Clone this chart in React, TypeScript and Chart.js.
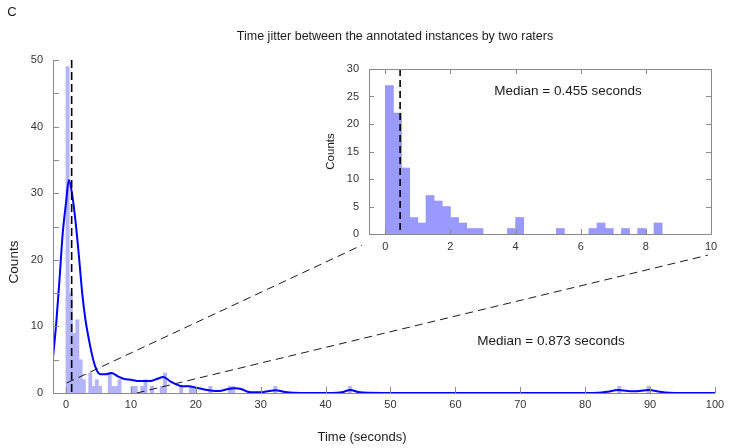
import React, { useEffect, useRef } from 'react';
import { Chart, registerables } from 'chart.js';

Chart.register(...registerables);

const FONT = '"Liberation Sans", Arial, Helvetica, sans-serif';

// ---- text ----
const panelLabel = 'C';
const titleText = 'Time jitter between the annotated instances by two raters';
const xTitle = 'Time (seconds)';
const yTitle = 'Counts';
const mainMedianLabel = 'Median = 0.873 seconds';
const insetMedianLabel = 'Median = 0.455 seconds';

// ---- main histogram (bin width 0.5 s) ----
const mainBinWidth = 0.5;
const mainBinStart = [0, 0.5, 1, 1.5, 2, 2.5, 3.5, 4, 4.5, 5, 6.5, 7, 7.5, 8, 10, 10.5, 11.5, 12, 13, 14.5, 15, 17.5, 19, 19.5, 22, 25, 25.5, 32, 43.5, 85, 89.5];
const mainCounts = [49, 15, 9, 11, 5, 2, 3, 1, 2, 1, 3, 1, 1, 2, 1, 1, 1, 2, 1, 1, 3, 1, 1, 1, 1, 1, 1, 1, 1, 1, 1];
const mainMedian = 0.873;

// ---- density curve ----
const kdeX = [-2, -1.5, -1, -0.5, 0, 0.45, 1, 1.5, 2, 2.5, 3, 3.5, 4, 4.5, 5, 5.5, 6, 7, 8, 9, 10, 11, 12, 13, 14, 15, 16, 17, 18, 19, 20, 21, 22, 23, 24, 25, 26, 27, 28, 29, 30, 31, 32.3, 33.5, 35, 38, 41, 42.5, 43.8, 45, 46.5, 50, 60, 70, 80, 82, 83.5, 85, 87.5, 89.8, 91.5, 93, 95, 100];
const kdeY = [5.3, 10.5, 17, 24, 28.5, 32, 29.5, 25.5, 20.5, 15, 11, 8.2, 5.8, 4, 3, 2.8, 2.8, 3, 2.5, 2.1, 2, 1.8, 1.8, 1.8, 2.1, 2.4, 1.8, 1.3, 1, 1, 0.8, 0.6, 0.4, 0.3, 0.35, 0.6, 0.7, 0.6, 0.2, 0.1, 0.1, 0.25, 0.4, 0.2, 0.03, 0, 0, 0.1, 0.45, 0.15, 0.02, 0, 0, 0, 0, 0.03, 0.2, 0.45, 0.25, 0.45, 0.2, 0.05, 0, 0];

const mainXTicks = [0, 10, 20, 30, 40, 50, 60, 70, 80, 90, 100];
const mainYTicks = [0, 5, 10, 15, 20, 25, 30, 35, 40, 45, 50];

// zoom connector lines (main data coordinates)
const connectorFrom = [[0.1, 1.5], [10.9, 0]];
const connectorTo = [[45.6, 22.2], [98.9, 20.7]];

// ---- inset histogram (bin width 0.25 s) ----
const insetBinWidth = 0.25;
const insetBinStart = [0, 0.25, 0.5, 0.75, 1, 1.25, 1.5, 1.75, 2, 2.25, 2.5, 2.75, 3.75, 4, 5.25, 6.25, 6.5, 6.75, 7.25, 7.75, 8.25];
const insetCounts = [27, 22, 12, 3, 2, 7, 6, 5, 3, 2, 1, 1, 1, 3, 1, 1, 2, 1, 1, 1, 2];
const insetMedian = 0.455;
const insetXTicks = [0, 2, 4, 6, 8, 10];
const insetYTicks = [0, 5, 10, 15, 20, 25, 30];

const AXIS_COLOR = '#8a8a8a';
const LABEL_COLOR = '#333333';

function px(v: number) {
  return Math.round(v) + 0.5;
}

function drawText(ctx: any, text: string, x: number, y: number, size: number, rotate = false) {
  ctx.save();
  ctx.font = `${size}px ${FONT}`;
  ctx.fillStyle = '#1a1a1a';
  ctx.textAlign = 'center';
  ctx.textBaseline = 'middle';
  if (rotate) {
    ctx.translate(x, y);
    ctx.rotate(-Math.PI / 2);
    ctx.fillText(text, 0, 0);
  } else {
    ctx.fillText(text, x, y);
  }
  ctx.restore();
}

const mainDecor = {
  id: 'mainDecor',
  afterDatasetsDraw(chart: any) {
    const { ctx, scales } = chart;
    const x = scales.x;
    const y = scales.y;
    ctx.save();
    ctx.strokeStyle = '#000';
    ctx.lineWidth = 1.6;
    ctx.setLineDash([8, 4]);
    const mx = x.getPixelForValue(mainMedian);
    ctx.beginPath();
    ctx.moveTo(mx, y.getPixelForValue(50));
    ctx.lineTo(mx, y.getPixelForValue(0));
    ctx.stroke();
    ctx.strokeStyle = '#1a1a1a';
    ctx.lineWidth = 1;
    ctx.setLineDash([8, 5]);
    for (let i = 0; i < connectorFrom.length; i++) {
      ctx.beginPath();
      ctx.moveTo(x.getPixelForValue(connectorFrom[i][0]), y.getPixelForValue(connectorFrom[i][1]));
      ctx.lineTo(x.getPixelForValue(connectorTo[i][0]), y.getPixelForValue(connectorTo[i][1]));
      ctx.stroke();
    }
    ctx.restore();
  },
  afterDraw(chart: any) {
    const { ctx, chartArea: a, scales } = chart;
    const x = scales.x;
    const y = scales.y;
    ctx.save();
    ctx.strokeStyle = AXIS_COLOR;
    ctx.lineWidth = 1;
    ctx.setLineDash([]);
    ctx.beginPath();
    ctx.moveTo(px(a.left), a.top);
    ctx.lineTo(px(a.left), px(a.bottom));
    ctx.lineTo(a.right, px(a.bottom));
    ctx.stroke();
    ctx.beginPath();
    for (const v of mainYTicks) {
      const yy = px(y.getPixelForValue(v));
      ctx.moveTo(a.left, yy);
      ctx.lineTo(a.left + 6, yy);
    }
    for (const v of mainXTicks) {
      const xx = px(x.getPixelForValue(v));
      ctx.moveTo(xx, a.bottom);
      ctx.lineTo(xx, a.bottom - 6);
    }
    ctx.stroke();
    ctx.restore();

    drawText(ctx, panelLabel, 12, 12, 13);
    drawText(ctx, titleText, 395, 37, 12.5);
    drawText(ctx, xTitle, 362, 437, 13);
    drawText(ctx, yTitle, 14, 262, 13.5, true);
    drawText(ctx, mainMedianLabel, 551, 341, 13.5);
  },
};

const insetDecor = {
  id: 'insetDecor',
  afterDatasetsDraw(chart: any) {
    const { ctx, scales } = chart;
    const x = scales.x;
    const y = scales.y;
    ctx.save();
    ctx.strokeStyle = '#000';
    ctx.lineWidth = 1.6;
    ctx.setLineDash([7, 4]);
    const mx = x.getPixelForValue(insetMedian);
    ctx.beginPath();
    ctx.moveTo(mx, y.getPixelForValue(30));
    ctx.lineTo(mx, y.getPixelForValue(0));
    ctx.stroke();
    ctx.restore();
  },
  afterDraw(chart: any) {
    const { ctx, chartArea: a, scales } = chart;
    const x = scales.x;
    const y = scales.y;
    ctx.save();
    ctx.strokeStyle = AXIS_COLOR;
    ctx.lineWidth = 1;
    ctx.setLineDash([]);
    ctx.strokeRect(px(a.left), px(a.top), Math.round(a.right - a.left), Math.round(a.bottom - a.top));
    ctx.beginPath();
    for (const v of insetYTicks) {
      const yy = px(y.getPixelForValue(v));
      ctx.moveTo(a.left, yy);
      ctx.lineTo(a.left + 5, yy);
      ctx.moveTo(a.right, yy);
      ctx.lineTo(a.right - 5, yy);
    }
    for (const v of insetXTicks) {
      const xx = px(x.getPixelForValue(v));
      ctx.moveTo(xx, a.bottom);
      ctx.lineTo(xx, a.bottom - 5);
      ctx.moveTo(xx, a.top);
      ctx.lineTo(xx, a.top + 5);
    }
    ctx.stroke();
    ctx.restore();

    drawText(ctx, yTitle, 11, (a.top + a.bottom) / 2, 11.5, true);
    drawText(ctx, insetMedianLabel, 248, 36, 13.5);
  },
};

function tickFont(size: number) {
  return { family: FONT, size };
}

function fixX(height: number) {
  return (s: any) => {
    s.height = height;
    s.paddingLeft = 0;
    s.paddingRight = 0;
  };
}

function fixY(width: number) {
  return (s: any) => {
    s.width = width;
    s.paddingTop = 0;
    s.paddingBottom = 0;
  };
}

export default function App() {
  const mainRef = useRef<HTMLCanvasElement>(null);
  const insetRef = useRef<HTMLCanvasElement>(null);

  useEffect(() => {
    const mainBars = mainBinStart.map((b, i) => ({ x: b + mainBinWidth / 2, y: mainCounts[i] }));
    const kde = kdeX.map((v, i) => ({ x: v, y: kdeY[i] }));
    const mainChart = new Chart(mainRef.current as HTMLCanvasElement, {
      type: 'bar',
      data: {
        datasets: [
          {
            type: 'bar',
            data: mainBars as any,
            backgroundColor: 'rgb(180,180,250)',
            borderWidth: 0,
            barPercentage: 1,
            categoryPercentage: 1,
            order: 2,
          } as any,
          {
            type: 'line',
            data: kde as any,
            borderColor: '#0000ff',
            borderWidth: 2,
            pointRadius: 0,
            fill: false,
            cubicInterpolationMode: 'monotone',
            order: 1,
          } as any,
        ],
      },
      options: {
        responsive: false,
        animation: false,
        layout: { padding: { top: 60, right: 16, left: 0, bottom: 0 } },
        plugins: { legend: { display: false }, tooltip: { enabled: false }, title: { display: false } },
        scales: {
          x: {
            type: 'linear',
            offset: false,
            min: -2,
            max: 100,
            afterBuildTicks: (s: any) => {
              s.ticks = mainXTicks.map((v) => ({ value: v }));
            },
            afterFit: fixX(55),
            grid: { display: false, drawTicks: false, offset: false },
            border: { display: false },
            ticks: { padding: 5, color: LABEL_COLOR, font: tickFont(11), maxRotation: 0, autoSkip: false },
          },
          y: {
            type: 'linear',
            min: 0,
            max: 50,
            afterBuildTicks: (s: any) => {
              s.ticks = mainYTicks.map((v) => ({ value: v }));
            },
            afterFit: fixY(53),
            grid: { display: false, drawTicks: false },
            border: { display: false },
            ticks: {
              padding: 10,
              color: LABEL_COLOR,
              font: tickFont(11),
              autoSkip: false,
              callback: (v: any) => (Number(v) % 10 === 0 ? String(v) : ''),
            },
          },
        },
      } as any,
      plugins: [mainDecor],
    });

    const insetBars = insetBinStart.map((b, i) => ({ x: b + insetBinWidth / 2, y: insetCounts[i] }));
    const insetChart = new Chart(insetRef.current as HTMLCanvasElement, {
      type: 'bar',
      data: {
        datasets: [
          {
            data: insetBars as any,
            backgroundColor: 'rgb(153,153,255)',
            borderWidth: 0,
            barPercentage: 1,
            categoryPercentage: 1,
          } as any,
        ],
      },
      options: {
        responsive: false,
        animation: false,
        layout: { padding: { top: 14, right: 9, left: 0, bottom: 0 } },
        plugins: { legend: { display: false }, tooltip: { enabled: false }, title: { display: false } },
        scales: {
          x: {
            type: 'linear',
            offset: false,
            min: -0.5,
            max: 10,
            afterBuildTicks: (s: any) => {
              s.ticks = insetXTicks.map((v) => ({ value: v }));
            },
            afterFit: fixX(21),
            grid: { display: false, drawTicks: false, offset: false },
            border: { display: false },
            ticks: { padding: 6, color: LABEL_COLOR, font: tickFont(11), maxRotation: 0, autoSkip: false },
          },
          y: {
            type: 'linear',
            min: 0,
            max: 30,
            afterBuildTicks: (s: any) => {
              s.ticks = insetYTicks.map((v) => ({ value: v }));
            },
            afterFit: fixY(49),
            grid: { display: false, drawTicks: false },
            border: { display: false },
            ticks: { padding: 10, color: LABEL_COLOR, font: tickFont(11), autoSkip: false },
          },
        },
      } as any,
      plugins: [insetDecor],
    });

    return () => {
      mainChart.destroy();
      insetChart.destroy();
    };
  }, []);

  return (
    <div style={{ position: 'fixed', left: 0, top: 0, width: 731, height: 448, background: '#fff' }}>
      <canvas ref={mainRef} width={731} height={448} style={{ position: 'absolute', left: 0, top: 0 }} />
      <canvas ref={insetRef} width={400} height={200} style={{ position: 'absolute', left: 320, top: 55 }} />
    </div>
  );
}
